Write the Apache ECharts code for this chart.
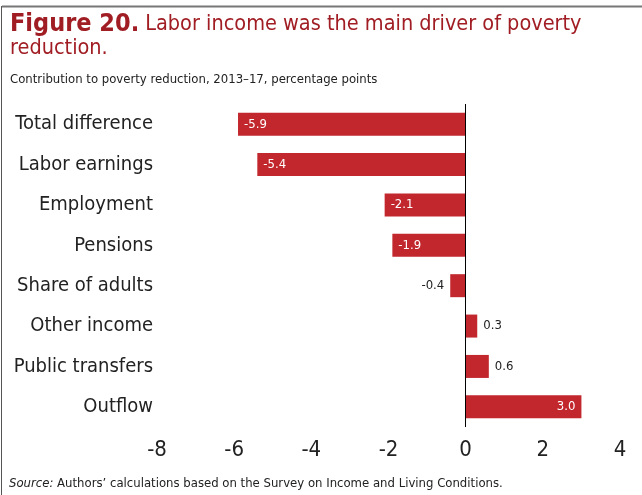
<!DOCTYPE html>
<html>
<head>
<meta charset="utf-8">
<script src="https://cdn.jsdelivr.net/npm/echarts@6/dist/echarts.min.js"></script>
<style>
html, body { margin: 0; padding: 0; background: #fff; }
#chart { width: 642px; height: 495px; }
</style>
</head>
<body>
<div id="chart"></div>
<script>
var categories = ['Total difference', 'Labor earnings', 'Employment', 'Pensions',
    'Share of adults', 'Other income', 'Public transfers', 'Outflow'];
var values = [-5.9, -5.4, -2.1, -1.9, -0.4, 0.3, 0.6, 3.0];
// big bars carry their label inside, small ones outside
var insideLabel = [true, true, true, true, false, false, false, true];

var FONT = '"Liberation Sans Narrow", "DejaVu Sans Condensed", sans-serif';
var RED = '#c1272d';
var chart = echarts.init(document.getElementById('chart'), null, {renderer: 'canvas'});

var barData = values.map(function (v, i) {
    var lbl;
    if (insideLabel[i]) {
        lbl = {show: true, position: v < 0 ? 'insideLeft' : 'insideRight', color: '#fff', distance: 6};
    } else {
        lbl = {show: true, position: v < 0 ? 'left' : 'right', color: '#222', distance: 6};
    }
    return {value: v, label: lbl};
});

chart.setOption({
    animation: false,
    grid: {left: 157, right: 22, top: 104, bottom: 68},
    xAxis: {
        type: 'value',
        min: -8, max: 4, interval: 2,
        splitLine: {show: false},
        axisLine: {show: false},
        axisTick: {show: false},
        axisLabel: {fontFamily: FONT, fontSize: 22, color: '#222', margin: 12}
    },
    yAxis: {
        type: 'category',
        data: categories,
        inverse: true,
        axisTick: {show: false},
        axisLine: {show: false},
        axisLabel: {fontFamily: FONT, fontSize: 20, color: '#222', margin: 4}
    },
    series: [{
        type: 'bar',
        data: barData,
        barWidth: 23,
        itemStyle: {color: RED},
        label: {fontFamily: FONT, fontSize: 13, formatter: function (p) { return p.value.toFixed(1); }},
        markLine: {
            silent: true, symbol: 'none', label: {show: false},
            lineStyle: {color: '#000', width: 1, type: 'solid'},
            data: [{xAxis: 0}]
        }
    }],
    graphic: [
        {type: 'line', shape: {x1: 2, y1: 6.5, x2: 642, y2: 6.5}, style: {stroke: '#777', lineWidth: 2}},
        {type: 'line', shape: {x1: 1.5, y1: 6, x2: 1.5, y2: 495}, style: {stroke: '#555', lineWidth: 1}},
        {type: 'text', left: 10, top: 12, style: {
            text: '{b|Figure 20.} {n|Labor income was the main driver of poverty}\n{n|reduction.}',
            fill: '#a11d24', fontFamily: FONT, fontSize: 21,
            rich: {
                b: {fontWeight: 'bold', fontSize: 25, fill: '#a11d24', fontFamily: FONT, lineHeight: 24},
                n: {fontSize: 21.5, fill: '#a11d24', fontFamily: FONT, lineHeight: 24}
            }
        }},
        {type: 'text', left: 10, top: 73, style: {
            text: 'Contribution to poverty reduction, 2013\u201317, percentage points',
            fill: '#222', fontFamily: FONT, fontSize: 13
        }},
        {type: 'text', left: 9, top: 477, style: {
            text: '{i|Source:} Authors\u2019 calculations based on the Survey on Income and Living Conditions.',
            fill: '#222', fontFamily: FONT, fontSize: 13,
            rich: {i: {fontStyle: 'italic', fontFamily: FONT, fontSize: 13, fill: '#222'}}
        }}
    ]
});
</script>
</body>
</html>
